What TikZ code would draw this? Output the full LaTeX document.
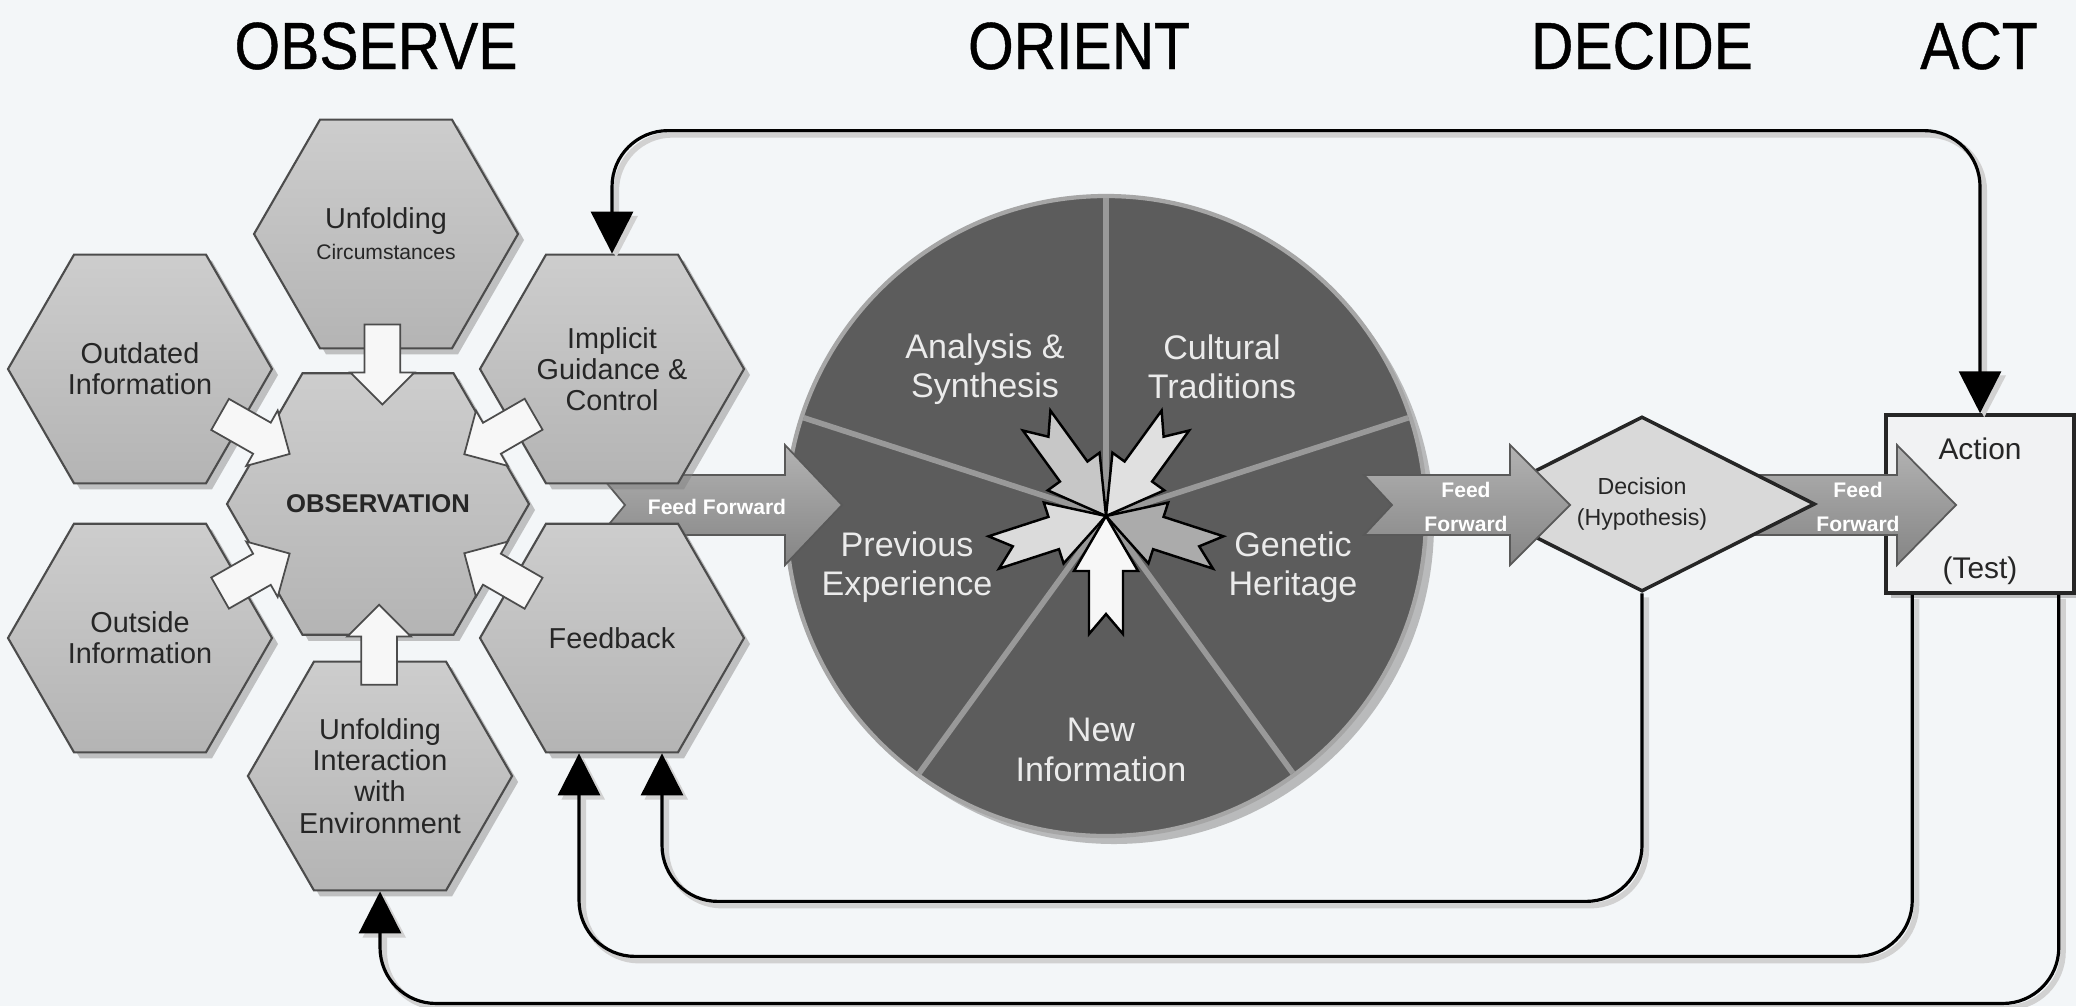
\documentclass[tikz,border=0pt]{standalone}
\usepackage{fontspec}
\setmainfont{Liberation Sans}
\newfontfamily\titlefont[FakeStretch=0.88, FakeBold=0.6]{Liberation Sans}
\usepackage{tikz}
\usetikzlibrary{positioning, calc, shapes.geometric, shapes.arrows, shadows, arrows.meta}

\definecolor{bgcol}{HTML}{F3F6F8}
\definecolor{hextop}{HTML}{CDCDCD}
\definecolor{hexbot}{HTML}{B4B4B4}
\definecolor{piecol}{HTML}{5C5C5C}
\definecolor{decfill}{HTML}{D9D9D9}
\definecolor{actfill}{HTML}{F1F2F3}

\begin{document}
\begin{tikzpicture}[
        >={Triangle[length=0.42cm, width=0.42cm]},
        titletxt/.style={anchor=base, font=\titlefont\fontsize{19}{19}\selectfont},
        hex/.style={regular polygon, regular polygon sides=6, minimum size=2.64cm, inner sep=0pt,
            draw=black!70, line width=0.6pt, top color=hextop, bottom color=hexbot,
            drop shadow={shadow xshift=0.06cm, shadow yshift=-0.06cm, fill=black!50, opacity=0.45},
            align=center, text=black!85, font=\fontsize{8.2}{8.9}\selectfont},
        inarrow/.style={single arrow, minimum height=0.8cm, minimum width=0.62cm,
            single arrow head extend=0.14cm, inner xsep=0pt, inner ysep=0.17cm,
            draw=black!70, fill=black!3, line width=0.5pt},
        ffarrow/.style={draw=black!65, line width=0.5pt, top color=black!30, bottom color=black!48},
        fftext/.style={text=white, align=center, font=\bfseries\fontsize{6}{9.5}\selectfont},
        pietext/.style={text=black!8, align=center, font=\fontsize{9.7}{11.2}\selectfont},
        loopline/.style={draw=black, line width=0.9pt, rounded corners=0.56cm,
            preaction={draw=black!18, line width=1.6pt, transform canvas={xshift=1.2pt, yshift=-1.2pt}}}
    ]

        \useasboundingbox (0,0) rectangle (20.76,10.06);
        \path[fill=bgcol] (0,0) rectangle (20.76,10.06);

        % headings
        \node[titletxt] (tobs) at (3.76,9.37) {OBSERVE};
        \node[titletxt] (tori) at (10.79,9.37) {ORIENT};
        \node[titletxt] (tdec) at (16.42,9.37) {DECIDE};
        \node[titletxt] (tact) at (19.79,9.37) {ACT};

        % orient pie
        \coordinate (pc) at (11.06,4.90);
        \path[fill=piecol, draw=black!35, line width=1.2pt,
            drop shadow={shadow xshift=0.08cm, shadow yshift=-0.08cm, fill=black!50, opacity=0.5}] (pc) circle (3.20);
        \foreach \a in {90,18,-54,-126,162}
            \path[draw=black!40, line width=1.6pt] (pc) -- ++(\a:3.18);

        \node[pietext] (as) at (9.85,6.37) {Analysis \&\\Synthesis};
        \node[pietext] (ct) at (12.22,6.39) {Cultural\\Traditions};
        \node[pietext] (pe) at (9.07,4.39) {Previous\\Experience};
        \node[pietext] (gh) at (12.93,4.39) {Genetic\\Heritage};
        \node[pietext] (ni) at (11.01,2.56) {New\\Information};

        % star of arrows in the middle
        \foreach \a/\c in {126/black!22, 54/black!12, 342/black!33, 198/black!14, 270/black!3} {
            \begin{scope}[shift={(pc)}, rotate=\a]
                \path[draw, line width=0.7pt, fill=\c] (0,0) -- (0.55,0.32) -- (0.55,0.17) -- (1.18,0.17)
                    -- (0.98,0) -- (1.18,-0.17) -- (0.55,-0.17) -- (0.55,-0.32) -- cycle;
            \end{scope}
        }

        % feed forward into orient
        \coordinate (ff1tail) at (6.00,5.01);
        \path[ffarrow] (ff1tail) ++(0,0.30) -- ++(1.85,0) -- ++(0,0.30) -- ++(0.57,-0.60)
            -- ++(-0.57,-0.60) -- ++(0,0.30) -- ++(-1.85,0) -- ++(0.25,0.30) -- cycle;
        \node[fftext] (ff1) at (7.17,4.99) {Feed Forward};

        % observe hexagons
        \node[hex, minimum size=3.02cm, font=\bfseries\fontsize{7.3}{8}\selectfont] (obs) at (3.78,5.02) {OBSERVATION};
        \node[hex] (uc) at (3.86,7.72) {Unfolding\\{\fontsize{6}{7}\selectfont Circumstances}};
        \node[hex] (oi) at (1.40,6.37) {Outdated\\Information};
        \node[hex] (igc) at (6.12,6.37) {Implicit\\Guidance \&\\Control};
        \node[hex] (out) at (1.40,3.68) {Outside\\Information};
        \node[hex] (fb) at (6.12,3.68) {Feedback};
        \node[hex] (uie) at (3.80,2.30) {Unfolding\\Interaction\\with\\Environment};

        \node[inarrow, rotate=-90] (a1) at ($(uc)!0.45!(obs)$) {};
        \node[inarrow, rotate=-29.6] (a2) at ($(oi)!0.45!(obs)$) {};
        \node[inarrow, rotate=-150] (a3) at ($(igc)!0.45!(obs)$) {};
        \node[inarrow, rotate=29.6] (a4) at ($(out)!0.45!(obs)$) {};
        \node[inarrow, rotate=150] (a5) at ($(fb)!0.45!(obs)$) {};
        \node[inarrow, rotate=90] (a6) at ($(uie)!0.45!(obs)$) {};

        % act
        \node[draw=black!85, line width=1pt, fill=actfill, minimum width=1.88cm, minimum height=1.78cm,
            drop shadow={shadow xshift=0.05cm, shadow yshift=-0.05cm, fill=black!50, opacity=0.45}] (act) at (19.80,5.02) {};
        \node[font=\fontsize{8.5}{10}\selectfont, text=black!85] (actlbl) at ($(act.north)+(0,-0.36)$) {Action};
        \node[font=\fontsize{8.5}{10}\selectfont, text=black!85] (testlbl) at ($(act.south)+(0,0.24)$) {(Test)};

        % feed forward into act
        \coordinate (ff3tail) at (17.40,5.01);
        \path[ffarrow] (ff3tail) ++(0,0.30) -- ++(1.57,0) -- ++(0,0.30) -- ++(0.59,-0.60)
            -- ++(-0.59,-0.60) -- ++(0,0.30) -- ++(-1.57,0) -- cycle;
        \node[fftext] (ff3) at (18.58,4.99) {Feed\\Forward};

        % decide
        \node[diamond, aspect=2, minimum width=3.46cm, minimum height=1.75cm, inner sep=0pt,
            draw=black!85, line width=1pt, fill=decfill, text=black!85, align=center,
            font=\fontsize{6.6}{8.6}\selectfont] (dec) at (16.42,5.02) {Decision\\(Hypothesis)};

        % feed forward into decide
        \coordinate (ff2tail) at (13.64,5.01);
        \path[ffarrow] (ff2tail) ++(0,0.30) -- ++(1.46,0) -- ++(0,0.30) -- ++(0.60,-0.60)
            -- ++(-0.60,-0.60) -- ++(0,0.30) -- ++(-1.46,0) -- ++(0.28,0.30) -- cycle;
        \node[fftext] (ff2) at (14.66,4.99) {Feed\\Forward};

        % loops back
        \draw[loopline, <->] (igc.north) -- ++(0,1.23) -| (act.north);
        \draw[loopline, ->] (dec.south) |- ($(fb.south)+(0.50,-1.48)$) -- ($(fb.south)+(0.50,0)$);
        \draw[loopline, ->] ($(act.south west)+(0.28,0)$) |- ($(fb.south)+(-0.33,-2.03)$) -- ($(fb.south)+(-0.33,0)$);
        \draw[loopline, ->] ($(act.south east)+(-0.17,0)$) |- ($(uie.south)+(0,-1.12)$) -- (uie.south);

    \end{tikzpicture}
\end{document}
